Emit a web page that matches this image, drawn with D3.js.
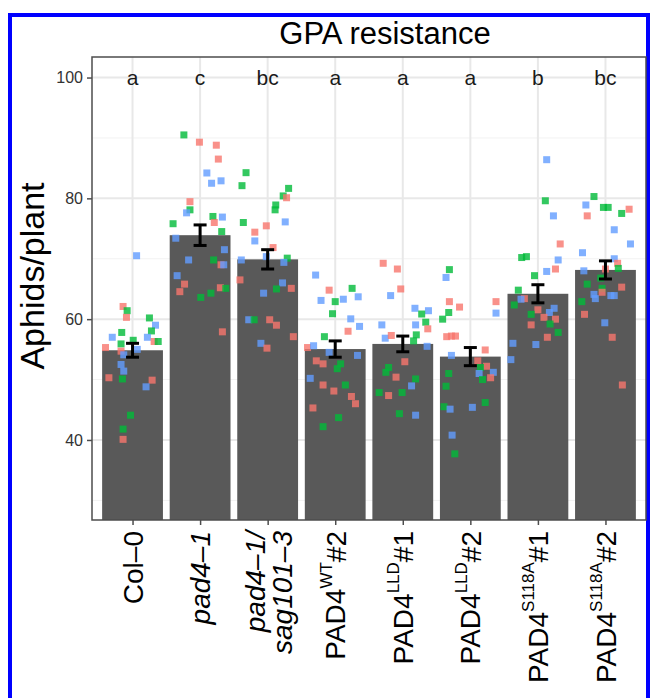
<html>
<head>
    <script src="https://d3js.org/d3.v7.min.js"></script>
    <style>
        body { margin: 0; background: #fff; }
        text { font-family: "Liberation Sans", Arial, sans-serif; }
    </style>
</head>
<body>
<svg id="chart" width="654" height="698"></svg>
<script>
    // categories (x axis) and summary values
    const categories = ["Col-0", "pad4-1", "pad4-1/sag101-3", "PAD4WT#2", "PAD4LLD#1", "PAD4LLD#2", "PAD4S118A#1", "PAD4S118A#2"];
    const means = [54.85, 73.9, 69.9, 55.05, 55.9, 53.8, 64.2, 68.15];
    const sems = [1.15, 1.7, 1.6, 1.35, 1.3, 1.5, 1.5, 1.5];
    const letters = ["a", "c", "bc", "a", "a", "a", "b", "bc"];
    const yTicks = [40, 60, 80, 100];
    const yMinor = [30, 50, 70, 90];
    const repColors = ["#F8766D", "#00BA38", "#619CFF"];

    // individual plants: [jitter (fraction of band), aphids/plant, replicate]
    const colPts = [[-0.14,62.1,0],[-0.08,61.4,1],[-0.09,60.3,0],[0.25,60.2,1],[0.34,59.0,2],[0.28,58.05,1],[-0.16,57.8,1],
        [-0.30,57.0,2],[0.22,57.0,2],[0.32,56.3,0],[0.38,56.3,1],[0.01,56.5,1],[-0.17,55.9,1],[-0.40,55.3,0],[-0.17,54.7,0],
        [0.07,55.0,2],[-0.13,54.1,2],[-0.17,52.5,2],[-0.13,51.4,2],[-0.35,50.3,0],[-0.15,50.1,1],[0.29,49.9,0],[0.20,48.8,2],
        [-0.03,44.1,1],[-0.14,41.8,1],[-0.14,40.1,0],[0.06,70.5,2]];
    const pad4Pts = [[-0.24,90.5,1],[-0.01,89.3,0],[0.24,88.8,0],[0.27,86.5,0],[0.10,84.2,2],[0.17,82.5,2],[0.31,82.9,2],
        [-0.15,79.45,0],[-0.15,78.1,1],[-0.20,77.6,2],[0.19,77.0,1],[0.33,76.9,2],[0.21,76.0,0],[-0.40,75.8,1],[0.32,74.5,1],
        [-0.36,73.4,2],[0.36,71.5,2],[-0.17,69.8,2],[0.20,69.8,1],[0.31,69.0,0],[0.35,69.0,2],[-0.34,67.2,2],[-0.23,65.8,0],
        [-0.30,64.55,0],[0.30,65.2,0],[0.38,65.1,1],[0.16,64.3,1],[0.01,63.6,1],[0.33,57.9,0]];
    const sagPts = [[-0.32,84.25,1],[-0.38,82.1,1],[0.31,81.65,1],[0.23,80.4,1],[0.28,80.1,0],[0.12,78.9,1],[0.11,78.1,1],
        [-0.36,76.0,1],[0.26,76.1,2],[-0.02,75.45,0],[-0.19,74.4,0],[-0.19,72.95,2],[0.08,71.85,0],[-0.39,69.8,2],[-0.02,70.35,2],
        [0.29,70.1,1],[0.24,69.4,2],[-0.41,66.5,0],[0.22,66.0,2],[0.13,65.0,1],[0.35,65.1,0],[-0.06,64.3,2],[-0.28,59.9,2],
        [-0.20,59.9,1],[0.03,59.9,0],[0.13,59.0,0],[0.38,57.1,0],[-0.10,56.0,2],[-0.01,55.2,0]];
    const wtPts = [[-0.29,67.3,2],[-0.09,64.8,0],[0.25,65.1,1],[0.34,63.7,2],[-0.21,63.1,2],[0.12,63.3,2],[0.0,62.9,1],
        [-0.04,60.9,1],[0.23,60.05,2],[0.36,58.8,2],[0.19,58.0,0],[-0.16,57.1,1],[-0.41,55.3,0],[-0.32,55.6,2],[-0.09,54.5,2],
        [0.33,54.0,2],[-0.28,53.1,0],[-0.18,52.6,0],[0.08,52.6,1],[0.03,51.8,1],[-0.37,50.2,2],[-0.18,49.1,0],[0.15,49.1,1],
        [-0.02,48.1,0],[0.24,47.2,0],[0.30,46.0,0],[-0.33,45.3,0],[0.05,43.7,1],[-0.18,42.2,1]];
    const lld1Pts = [[-0.29,69.25,0],[-0.08,68.3,0],[-0.03,65.0,0],[-0.18,63.9,2],[0.18,61.8,2],[0.38,61.4,2],[0.28,60.85,1],
        [0.34,59.5,1],[0.37,58.4,0],[-0.31,59.05,2],[0.19,59.05,2],[0.20,57.4,1],[-0.26,56.85,2],[-0.17,57.3,0],[0.16,56.4,1],
        [0.36,55.5,2],[0.03,52.95,0],[-0.21,52.0,1],[-0.25,51.2,1],[-0.10,50.4,0],[0.19,50.1,1],[0.13,48.95,2],[-0.35,47.85,1],
        [-0.21,47.35,0],[-0.01,47.85,1],[-0.05,44.35,1],[0.19,44.1,2]];
    const lld2Pts = [[-0.31,68.2,1],[-0.36,66.9,2],[-0.31,62.9,0],[-0.16,62.0,0],[-0.32,61.1,1],[-0.41,60.0,1],[-0.35,57.1,0],
        [-0.28,57.2,0],[-0.22,57.2,0],[0.22,54.9,0],[-0.28,54.0,2],[0.11,53.1,0],[0.24,52.2,0],[0.15,52.0,1],[0.13,51.0,2],
        [0.34,51.2,2],[-0.32,51.0,1],[0.30,50.3,0],[0.18,50.0,1],[-0.36,48.9,1],[0.22,46.2,1],[-0.39,45.5,1],[-0.30,45.1,2],
        [0.03,45.4,2],[-0.27,40.8,2],[-0.23,37.7,1],[0.38,62.9,0],[0.38,61.0,2]];
    const s1Pts = [[0.13,86.4,2],[0.11,79.6,1],[0.23,77.1,2],[0.33,72.45,0],[-0.24,70.2,1],[-0.17,70.35,1],[0.30,69.8,2],
        [0.26,68.3,0],[0.13,67.9,2],[-0.05,67.2,1],[-0.29,64.8,1],[-0.20,63.4,0],[-0.25,63.3,2],[-0.35,62.35,1],[0.24,61.8,2],
        [0.0,61.55,0],[0.17,61.1,2],[-0.10,60.8,1],[0.09,60.3,0],[0.26,60.0,0],[0.18,59.2,1],[-0.10,59.05,0],[0.30,57.8,1],
        [0.14,57.0,0],[-0.37,56.0,2],[-0.03,55.8,2],[-0.40,53.3,2]];
    const s2Pts = [[-0.17,80.3,1],[-0.29,78.9,2],[-0.03,78.5,1],[0.04,78.5,1],[0.35,78.2,0],[-0.27,77.1,0],[0.24,77.5,1],
        [0.13,74.8,2],[0.37,72.45,2],[-0.34,71.0,2],[0.13,70.0,2],[0.18,69.25,0],[0.19,68.4,1],[0.0,68.3,0],[-0.32,68.0,2],
        [-0.07,66.8,1],[-0.27,65.8,1],[0.24,65.3,0],[-0.05,65.1,1],[-0.05,64.45,0],[-0.17,64.1,2],[0.08,63.9,2],[0.13,63.9,2],
        [-0.15,63.4,2],[-0.35,62.9,1],[-0.31,60.8,0],[-0.01,59.4,2],[0.10,57.0,0],[0.25,49.1,0]];
    const allPts = [colPts, pad4Pts, sagPts, wtPts, lld1Pts, lld2Pts, s1Pts, s2Pts];

    const svg = d3.select("#chart");
    const panel = {left: 92, right: 646, top: 57, bottom: 520};

    // blue frame around the figure
    svg.append("rect")
        .attr("x", 10).attr("y", 15)
        .attr("width", 638).attr("height", 700)
        .attr("fill", "none").attr("stroke", "#0000ff").attr("stroke-width", 4);

    // discrete scale with ggplot-like expansion (0.6 of a step each side)
    const step = (panel.right - panel.left) / (categories.length - 1 + 1.2);
    const x = d3.scalePoint()
        .domain(categories)
        .range([panel.left + 0.6 * step, panel.right - 0.6 * step]);
    const y = d3.scaleLinear()
        .domain([26.75, 103.4])
        .range([panel.bottom, panel.top]);
    const barW = step * 0.9;

    // grid
    svg.append("g").selectAll("line").data(yMinor).join("line")
        .attr("x1", panel.left).attr("x2", panel.right)
        .attr("y1", d => y(d)).attr("y2", d => y(d))
        .attr("stroke", "#f2f2f2").attr("stroke-width", 1);
    svg.append("g").selectAll("line").data(yTicks).join("line")
        .attr("x1", panel.left).attr("x2", panel.right)
        .attr("y1", d => y(d)).attr("y2", d => y(d))
        .attr("stroke", "#e8e8e8").attr("stroke-width", 2);
    svg.append("g").selectAll("line").data(categories).join("line")
        .attr("x1", d => x(d)).attr("x2", d => x(d))
        .attr("y1", panel.top).attr("y2", panel.bottom)
        .attr("stroke", "#e8e8e8").attr("stroke-width", 2);

    // bars
    svg.append("g").selectAll("rect").data(categories).join("rect")
        .attr("x", d => x(d) - barW / 2)
        .attr("y", (d, i) => y(means[i]))
        .attr("width", barW)
        .attr("height", (d, i) => panel.bottom - y(means[i]))
        .attr("fill", "#595959");

    // jittered points
    const sq = 7;
    allPts.forEach((pts, i) => {
        const cx = x(categories[i]);
        svg.append("g").selectAll("rect").data(pts).join("rect")
            .attr("x", d => cx + d[0] * step - sq / 2)
            .attr("y", d => y(d[1]) - sq / 2)
            .attr("width", sq).attr("height", sq)
            .attr("fill", d => repColors[d[2]])
            .attr("opacity", 0.8);
    });

    // error bars
    const eb = svg.append("g").attr("stroke", "#000").attr("stroke-width", 3);
    categories.forEach((c, i) => {
        const cx = x(c);
        eb.append("line").attr("x1", cx).attr("x2", cx)
            .attr("y1", y(means[i] + sems[i])).attr("y2", y(means[i] - sems[i]));
        [means[i] + sems[i], means[i] - sems[i]].forEach(v => {
            eb.append("line").attr("x1", cx - 6.5).attr("x2", cx + 6.5)
                .attr("y1", y(v)).attr("y2", y(v));
        });
    });

    // significance letters
    svg.append("g").selectAll("text").data(letters).join("text")
        .attr("x", (d, i) => x(categories[i]))
        .attr("y", y(100))
        .attr("dy", "0.35em")
        .attr("text-anchor", "middle")
        .attr("font-size", 21)
        .attr("fill", "#1a1a1a")
        .text(d => d);

    // panel border
    svg.append("rect")
        .attr("x", panel.left).attr("y", panel.top)
        .attr("width", panel.right - panel.left).attr("height", panel.bottom - panel.top)
        .attr("fill", "none").attr("stroke", "#4d4d4d").attr("stroke-width", 1.5);

    // y axis
    const yAxis = svg.append("g")
        .attr("transform", "translate(" + panel.left + ",0)")
        .call(d3.axisLeft(y).tickValues(yTicks).tickSize(5).tickPadding(4));
    yAxis.select(".domain").remove();
    yAxis.selectAll("line").attr("stroke", "#4d4d4d").attr("stroke-width", 1.5);
    yAxis.selectAll("text").attr("font-size", 16).attr("fill", "#333")
        .attr("font-family", "'Liberation Sans', Arial, sans-serif");

    // x axis ticks
    const xAxis = svg.append("g")
        .attr("transform", "translate(0," + panel.bottom + ")")
        .call(d3.axisBottom(x).tickSize(5).tickFormat(""));
    xAxis.select(".domain").remove();
    xAxis.selectAll("line").attr("stroke", "#4d4d4d").attr("stroke-width", 1.5);

    // x labels, rotated
    const labY = 531;
    const labSize = 28;
    function lab(i) {
        return svg.append("g")
            .attr("transform", "translate(" + x(categories[i]) + "," + labY + ") rotate(-90)");
    }
    lab(0).append("text").attr("text-anchor", "end").attr("dy", "0.36em")
        .attr("font-size", labSize).text("Col\u20130");
    lab(1).append("text").attr("text-anchor", "end").attr("dy", "0.36em")
        .attr("font-size", labSize).attr("font-style", "italic").text("pad4\u20131");
    const g2 = lab(2);
    g2.append("text").attr("text-anchor", "end").attr("y", -13).attr("dy", "0.36em")
        .attr("font-size", labSize).attr("font-style", "italic").text("pad4\u20131/");
    g2.append("text").attr("text-anchor", "end").attr("y", 14).attr("dy", "0.36em")
        .attr("font-size", labSize).attr("font-style", "italic").text("sag101\u20133");
    const sups = [[3, "WT", "#2"], [4, "LLD", "#1"], [5, "LLD", "#2"], [6, "S118A", "#1"], [7, "S118A", "#2"]];
    sups.forEach(s => {
        const t = lab(s[0]).append("text").attr("text-anchor", "end").attr("dy", "0.36em")
            .attr("font-size", labSize);
        t.append("tspan").text("PAD4");
        t.append("tspan").attr("font-size", 17).attr("dy", "-0.8em").text(s[1]);
        t.append("tspan").attr("dy", "0.5em").text(s[2]);
    });

    // y title
    svg.append("text")
        .attr("transform", "translate(44,276) rotate(-90)")
        .attr("text-anchor", "middle")
        .attr("font-size", 34)
        .text("Aphids/plant");

    // chart title
    svg.append("text")
        .attr("x", (panel.left + panel.right) / 2 + 16)
        .attr("y", 44)
        .attr("text-anchor", "middle")
        .attr("font-size", 31)
        .text("GPA resistance");
</script>
</body>
</html>
